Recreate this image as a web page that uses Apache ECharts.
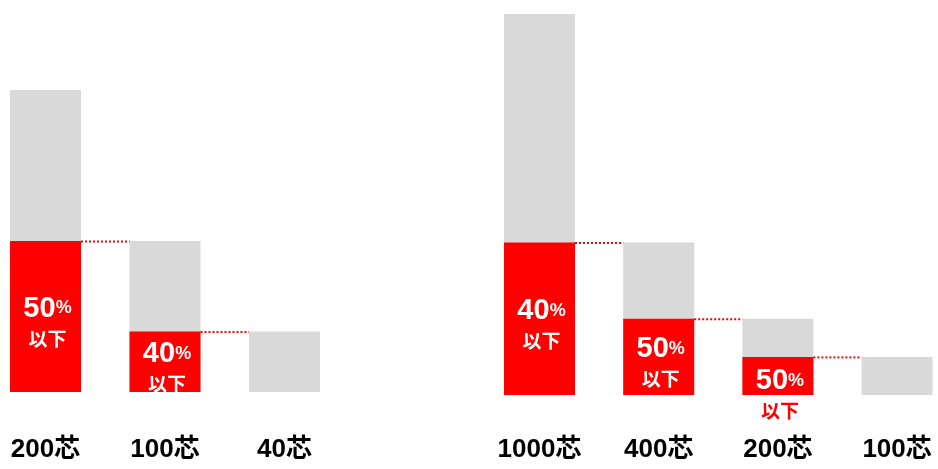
<!DOCTYPE html>
<html><head><meta charset="utf-8">
<script src="https://cdn.jsdelivr.net/npm/echarts@6/dist/echarts.min.js"></script>
<style>html,body{margin:0;padding:0;background:#fff}#c{width:938px;height:469px}</style>
</head><body><div id="c"></div>
<script>
// ---- data ----
const leftCats = ['200芯', '100芯', '40芯'];
const leftTotals = [200, 100, 40];
const leftRemain = [100, 40, null];
const leftPct = ['50', '40', null];

const rightCats = ['1000芯', '400芯', '200芯', '100芯'];
const rightTotals = [1000, 400, 200, 100];
const rightRemain = [400, 200, 100, null];
const rightPct = ['40', '50', '50', null];

const pctUnit = '%';
const belowText = '以下';

// ---- style ----
const BAR_W = 71;
const GRAY = '#d9d9d9';
const RED = '#ff0000';
const FONT = '"Liberation Sans","Noto Sans CJK JP",sans-serif';
const CJK = '"Noto Sans CJK JP",sans-serif';

const grids = [
  { left: -14.25, width: 358.5, top: 90, height: 302, outerBoundsMode: 'none', containLabel: false },
  { left: 479.9, width: 476.8, top: 14, height: 381, outerBoundsMode: 'none', containLabel: false }
];
const groups = [
  { cats: leftCats, totals: leftTotals, remain: leftRemain, pct: leftPct, max: 200, margin: 45 },
  { cats: rightCats, totals: rightTotals, remain: rightRemain, pct: rightPct, max: 1000, margin: 42 }
];

function redData(g, gridH) {
  return g.remain.map((v, i) => {
    if (v == null) return null;
    const px = gridH * v / g.max;
    const short = px < 50;
    return {
      value: v,
      label: {
        show: true,
        position: 'inside',
        offset: [2, short ? 20 : 7],
        formatter: '{n|' + g.pct[i] + '}{p|' + pctUnit + '}\n{t|' + belowText + '}',
        rich: {
          n: { fontFamily: FONT, fontWeight: 'bold', fontSize: 29, color: '#fff', lineHeight: 30 },
          p: { fontFamily: FONT, fontWeight: 'bold', fontSize: 18, color: '#fff', lineHeight: 30 },
          t: { fontFamily: CJK, fontWeight: 'bold', fontSize: 19, color: short ? RED : '#fff', lineHeight: 30 }
        }
      }
    };
  });
}

const xAxis = [], yAxis = [], series = [];
groups.forEach((g, gi) => {
  xAxis.push({
    type: 'category', gridIndex: gi, data: g.cats,
    axisLine: { show: false }, axisTick: { show: false },
    axisLabel: { interval: 0, hideOverlap: false, margin: g.margin, fontFamily: FONT, fontWeight: 'bold', fontSize: 26, color: '#000', lineHeight: 26 }
  });
  yAxis.push({ type: 'value', gridIndex: gi, min: 0, max: g.max, show: false });
  series.push({
    type: 'bar', xAxisIndex: gi, yAxisIndex: gi, barWidth: BAR_W, barGap: '-100%',
    itemStyle: { color: GRAY }, data: g.totals, silent: true
  });
  series.push({
    type: 'bar', xAxisIndex: gi, yAxisIndex: gi, barWidth: BAR_W, barGap: '-100%',
    itemStyle: { color: RED }, data: redData(g, grids[gi].height), silent: true, z: 3
  });
  // dotted connectors: top of red part -> next bar
  series.push({
    type: 'custom', xAxisIndex: gi, yAxisIndex: gi, z: 4, silent: true,
    data: g.remain.map((v, i) => [i, v]).filter(d => d[1] != null && d[0] < g.cats.length - 1),
    renderItem: function (params, api) {
      const i = api.value(0), v = api.value(1);
      const a = api.coord([i, v]);
      const b = api.coord([i + 1, v]);
      return {
        type: 'line',
        shape: { x1: a[0] + BAR_W / 2, y1: a[1] + 0.5, x2: b[0] - BAR_W / 2, y2: a[1] + 0.5 },
        style: { stroke: RED, lineWidth: 2, lineDash: [2, 2] }
      };
    }
  });
});

const chart = echarts.init(document.getElementById('c'), null, { renderer: 'canvas' });
chart.setOption({
  animation: false,
  backgroundColor: '#fff',
  grid: grids,
  xAxis: xAxis,
  yAxis: yAxis,
  series: series
});
</script>
</body></html>
